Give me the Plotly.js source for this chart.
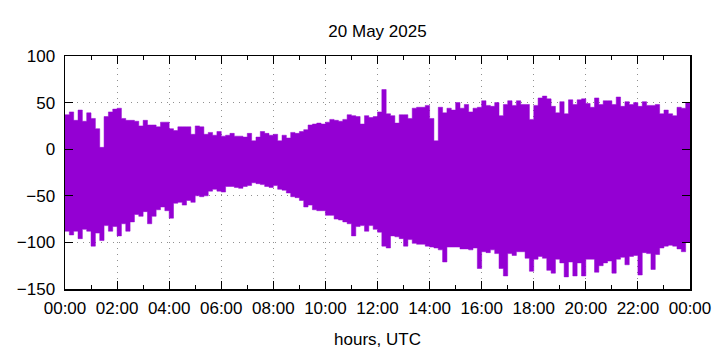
<!DOCTYPE html>
<html>
<head>
<meta charset="utf-8">
<script src="https://cdn.plot.ly/plotly-3.0.1.min.js"></script>
<style>html,body{margin:0;padding:0;background:#fff}#chart{width:720px;height:350px}</style>
</head>
<body>
<div id="chart"></div>
<script>
// 10-minute samples starting 2025-05-20 00:00 UTC
const startTime = "2025-05-20T00:00:00Z";
const stepMinutes = 10;

// upper envelope of the signal per 10-minute block
const upper = [
  37, 40, 31, 42, 30, 39, 33, 22, 2, 35, 40, 43, 44,
  33, 31, 31, 30, 25, 31, 26, 26, 24, 29, 29, 22,
  20, 24, 24, 24, 16, 25, 24, 16, 18, 15, 19, 14,
  15, 17, 14, 14, 13, 17, 9, 13, 19, 17, 15, 16,
  9, 15, 12, 18, 17, 19, 21, 26, 27, 28, 27, 29,
  32, 31, 30, 32, 37, 36, 35, 27, 36, 34, 35, 40,
  64, 38, 36, 28, 37, 37, 33, 44, 45, 45, 47, 33,
  9, 45, 39, 44, 42, 50, 44, 48, 40, 44, 45, 52,
  47, 46, 50, 36, 48, 52, 47, 52, 48, 48, 32, 47,
  55, 57, 54, 46, 39, 51, 38, 53, 48, 53, 54, 49,
  45, 55, 48, 52, 52, 48, 56, 46, 51, 48, 50, 46,
  51, 47, 47, 48, 38, 42, 38, 36, 45, 44, 50, 25
];

// lower envelope of the signal per 10-minute block
const lower = [
  -88, -92, -88, -96, -86, -88, -104, -90, -98, -82, -88, -83, -93,
  -80, -88, -78, -70, -72, -67, -80, -72, -65, -62, -66, -74,
  -58, -57, -60, -55, -57, -50, -51, -50, -45, -43, -45, -46,
  -40, -40, -41, -42, -40, -39, -36, -37, -38, -40, -41, -39,
  -43, -44, -47, -51, -52, -55, -62, -60, -65, -66, -66, -71,
  -71, -75, -76, -78, -80, -93, -83, -82, -88, -82, -86, -89,
  -104, -106, -93, -94, -96, -104, -97, -101, -102, -102, -104, -105,
  -106, -108, -121, -105, -105, -105, -107, -107, -108, -106, -128, -110,
  -111, -108, -112, -128, -136, -112, -114, -110, -110, -117, -131, -118,
  -115, -117, -130, -133, -118, -122, -137, -121, -136, -122, -136, -118,
  -118, -132, -125, -122, -120, -133, -118, -116, -124, -115, -114, -135,
  -111, -112, -129, -113, -106, -104, -103, -104, -107, -110, -100, -92
];

const titleText = "20 May 2025";
const xTitle = "hours, UTC";

const t0 = Date.parse(startTime);
function iso(ms){ return new Date(ms).toISOString().replace("T"," ").replace("Z","").slice(0,19); }
const times = upper.map((_, i) => iso(t0 + i * stepMinutes * 60000));

const col = "#9400d3";
const font = {family: "Liberation Sans, Arial, sans-serif", size: 17, color: "#000"};

const traces = [
  {x: times, y: lower, type: "scatter", mode: "lines", line: {color: col, width: 0.5, shape: "hv"}, hoverinfo: "skip"},
  {x: times, y: upper, type: "scatter", mode: "lines", line: {color: col, width: 0.5, shape: "hv"}, fill: "tonexty", fillcolor: col, hoverinfo: "skip"}
];

const layout = {
  width: 720, height: 350,
  margin: {l: 65, r: 30, t: 56, b: 61},
  paper_bgcolor: "#fff", plot_bgcolor: "#fff",
  showlegend: false,
  font: font,
  title: {text: titleText, font: font, x: 0.5, xref: "paper", xanchor: "center", y: 1 - 31/350, yref: "container", yanchor: "middle"},
  xaxis: {
    type: "date",
    range: ["2025-05-20 00:00:00", "2025-05-21 00:00:00"],
    tick0: "2025-05-20 00:00:00",
    dtick: 2 * 3600000,
    tickformat: "%H:%M",
    ticks: "inside", ticklen: 8, tickwidth: 1, tickcolor: "#000",
    ticklabelstandoff: 3,
    minor: {dtick: 3600000, ticks: "inside", ticklen: 4, tickcolor: "#000", showgrid: false},
    showline: true, linecolor: "#000", linewidth: 1.5, mirror: "ticks",
    showgrid: true, gridcolor: "#909090", griddash: "1px,5px", gridwidth: 1,
    zeroline: false,
    tickfont: font,
    title: {text: xTitle, font: font, standoff: 16}
  },
  yaxis: {
    range: [-150, 100],
    tick0: 0, dtick: 50,
    ticks: "inside", ticklen: 8, tickwidth: 1, tickcolor: "#000",
    ticklabelstandoff: 5,
    showline: true, linecolor: "#000", linewidth: 1.5, mirror: "ticks",
    showgrid: true, gridcolor: "#909090", griddash: "1px,5px", gridwidth: 1,
    zeroline: false,
    tickfont: font
  }
};

Plotly.newPlot("chart", traces, layout, {staticPlot: true, displayModeBar: false});
</script>
</body>
</html>
